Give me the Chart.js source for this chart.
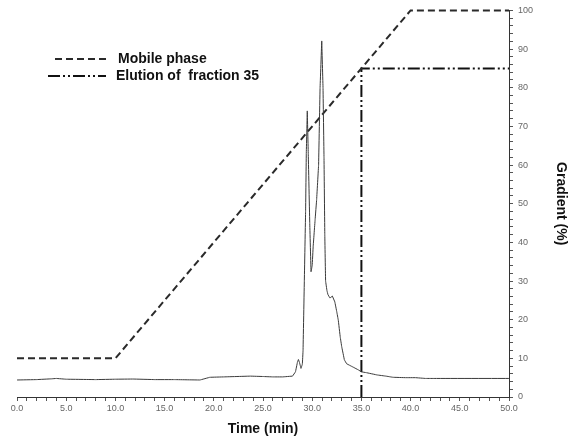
<!DOCTYPE html>
<html>
<head>
<meta charset="utf-8">
<script src="https://cdn.jsdelivr.net/npm/chart.js@4.4.1/dist/chart.umd.min.js"></script>
<style>
  html, body { margin: 0; padding: 0; background: #fff; }
  #wrap { width: 569px; height: 441px; }
</style>
</head>
<body>
<div id="wrap"><canvas id="hplc"></canvas></div>
<script>
// chromatogram trace (time in min, signal drawn on the gradient scale)
const signalTime = [0, 2, 3.5, 4, 5, 8, 10, 11.8, 14, 16, 18.6, 19.6, 21, 23.7, 25, 26, 27, 28, 28.3, 28.5, 28.6, 28.7, 28.86, 29, 29.07, 29.2, 29.33, 29.4, 29.5, 29.6, 29.75, 29.88, 30.0, 30.1, 30.3, 30.45, 30.65, 30.8, 30.97, 31.1, 31.2, 31.28, 31.36, 31.5, 31.6, 31.8, 32.05, 32.3, 32.5, 32.65, 32.85, 33.0, 33.27, 33.5, 33.8, 34.18, 34.7, 35, 35.5, 36.6, 37.5, 38.2, 39.5, 40.5, 41.5, 42.3, 50];
const signalValue = [4.4, 4.5, 4.7, 4.8, 4.6, 4.5, 4.6, 4.65, 4.5, 4.5, 4.4, 5.1, 5.2, 5.4, 5.3, 5.2, 5.2, 5.4, 6.5, 9.0, 9.7, 9.0, 7.4, 8.5, 12, 30, 48, 63, 74, 63, 45, 32.4, 34, 39, 46, 51, 60, 80, 92.1, 80, 62, 42, 30, 27.5, 26.5, 25.6, 26.1, 24.6, 22, 19.9, 15.5, 13.0, 9.6, 8.6, 8.2, 7.7, 7.0, 6.5, 6.3, 5.7, 5.4, 5.1, 5.0, 5.0, 4.8, 4.8, 4.8];

// mobile phase gradient (%)
const mobileTime = [0, 10, 40, 50];
const mobileValue = [10, 10, 100, 100];

// elution of fraction 35 marker
const elutionTime = [35, 35, 50];
const elutionValue = [0, 85, 85];

const xTicks = [0, 5, 10, 15, 20, 25, 30, 35, 40, 45, 50];
const yTicks = [0, 10, 20, 30, 40, 50, 60, 70, 80, 90, 100];

const toPoints = (xs, ys) => xs.map((x, i) => ({ x, y: ys[i] }));

const FONT = '"Liberation Sans", Arial, sans-serif';

const insideLegend = {
    id: 'insideLegend',
    afterDraw(chart, args, opts) {
        const { ctx } = chart;
        ctx.save();
        ctx.font = `bold 14px ${FONT}`;
        ctx.textBaseline = 'middle';
        opts.items.forEach((item) => {
            const ds = chart.data.datasets[item.dataset];
            ctx.strokeStyle = ds.borderColor;
            ctx.lineWidth = ds.borderWidth;
            ctx.setLineDash(ds.borderDash || []);
            ctx.beginPath();
            ctx.moveTo(item.x0, item.y);
            ctx.lineTo(item.x1, item.y);
            ctx.stroke();
            ctx.setLineDash([]);
            ctx.fillStyle = '#111';
            ctx.fillText(ds.label, item.tx, item.y);
        });
        ctx.restore();
    },
};

new Chart(document.getElementById('hplc'), {
    type: 'line',
    data: {
        datasets: [
            {
                label: 'Signal',
                data: toPoints(signalTime, signalValue),
                borderColor: '#3a3a3a',
                borderWidth: 1,
                pointRadius: 0,
                // tiny tension so the line skips the fast path (which merges same-pixel points)
                tension: 0.001,
            },
            {
                label: 'Mobile phase',
                data: toPoints(mobileTime, mobileValue),
                borderColor: '#2a2a2a',
                borderWidth: 2,
                borderDash: [7, 4],
                pointRadius: 0,
                clip: 4,
            },
            {
                label: 'Elution of  fraction 35',
                data: toPoints(elutionTime, elutionValue),
                borderColor: '#111',
                borderWidth: 2,
                borderDash: [12, 3, 2, 3, 2, 3],
                pointRadius: 0,
                clip: 4,
            },
        ],
    },
    options: {
        responsive: true,
        maintainAspectRatio: false,
        animation: false,
        layout: { padding: { left: 17, top: 10, right: 0, bottom: 0 } },
        plugins: {
            legend: { display: false },
            tooltip: { enabled: false },
            insideLegend: {
                items: [
                    { dataset: 1, x0: 55, x1: 108, tx: 118, y: 59 },
                    { dataset: 2, x0: 48, x1: 106, tx: 116, y: 76 },
                ],
            },
        },
        scales: {
            x: {
                type: 'linear',
                min: 0,
                max: 50,
                ticks: {
                    stepSize: 1,
                    autoSkip: false,
                    maxRotation: 0,
                    padding: 2,
                    color: '#666',
                    font: { family: FONT, size: 9 },
                    callback: (v) => (xTicks.includes(v) ? v.toFixed(1) : ''),
                },
                grid: { drawOnChartArea: false, tickLength: 4, color: '#555' },
                border: { color: '#333', width: 1 },
                title: {
                    display: true,
                    text: 'Time (min)',
                    color: '#111',
                    font: { family: FONT, size: 14, weight: 'bold' },
                    padding: { top: 0, bottom: 3 },
                },
                afterFit: (scale) => { scale.height = 44; },
            },
            y: {
                position: 'right',
                min: 0,
                max: 100,
                ticks: {
                    stepSize: 2,
                    autoSkip: false,
                    padding: 5,
                    color: '#666',
                    font: { family: FONT, size: 9 },
                    callback: (v) => (yTicks.includes(v) ? String(v) : ''),
                },
                grid: { drawOnChartArea: false, tickLength: 4, color: '#555' },
                border: { color: '#333', width: 1 },
                title: {
                    display: true,
                    text: 'Gradient (%)',
                    color: '#111',
                    font: { family: FONT, size: 14, weight: 'bold' },
                    padding: { top: 0, bottom: 0 },
                },
                afterFit: (scale) => { scale.width = 60; },
            },
        },
    },
    plugins: [insideLegend],
});
</script>
</body>
</html>
